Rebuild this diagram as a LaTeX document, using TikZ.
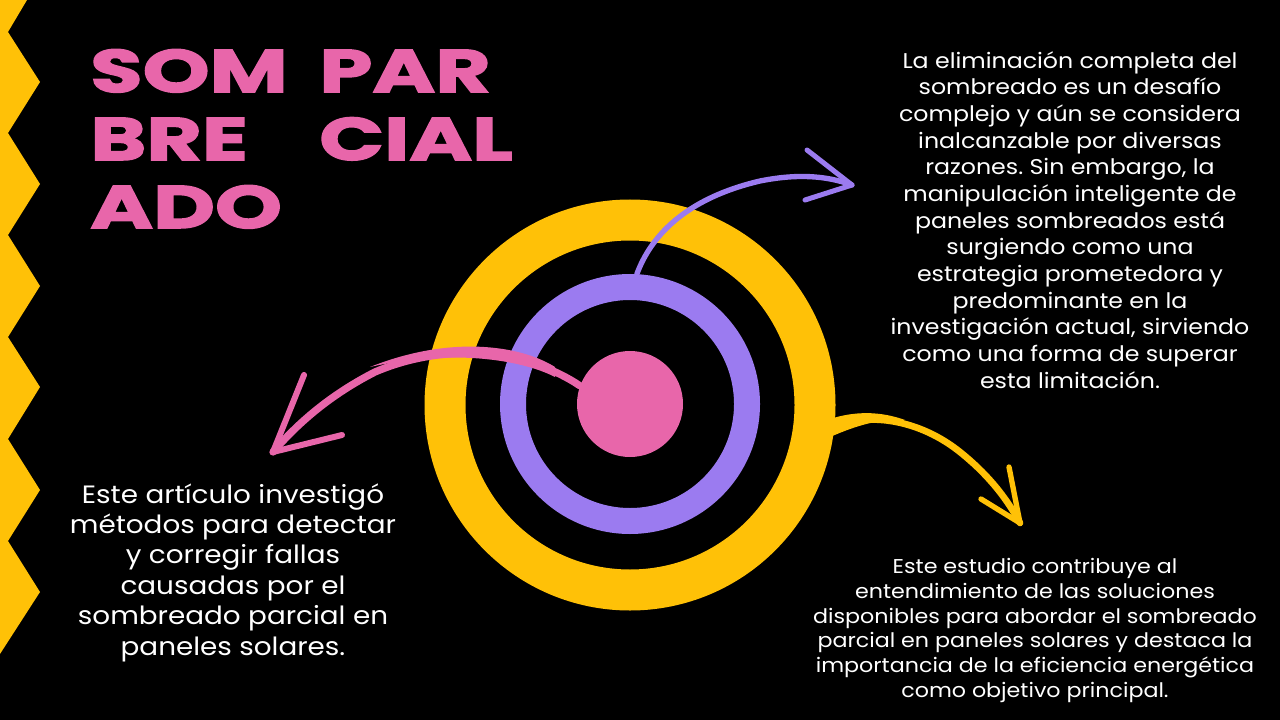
\documentclass[tikz,border=0pt]{standalone}
\usepackage{fontspec}
\setmainfont{Poppins}[FakeStretch=1.11]
\newfontfamily\titlefont{Poppins}[FakeStretch=1.42,FakeBold=2.5]
\frenchspacing
\definecolor{zyellow}{HTML}{FFC107}
\definecolor{zpurple}{HTML}{9B7BF0}
\definecolor{zpink}{HTML}{E866AA}
\tikzset{
  titleword/.style={anchor=base west, inner sep=0pt, text=zpink, font=\titlefont\bfseries\fontsize{45}{51}\selectfont},
  bodytext/.style={anchor=north, inner sep=0pt, text=white, align=center},
  ringstyle/.style={circle, inner sep=0pt},
  stroke/.style={line cap=round, line join=round},
}
\begin{document}
\begin{tikzpicture}[x=0.75pt,y=-0.75pt]
\fill[black] (0,0) rectangle (1280,720);
\useasboundingbox (0,0) rectangle (1280,720);
% zigzag border
\fill[zyellow] (0,0) -- (27,0) -- (8,32) -- (40,82) -- (8,133) -- (40,184) -- (8,235)
  -- (40,286) -- (8,337) -- (40,387) -- (8,439) -- (40,490) -- (8,541) -- (40,592)
  -- (0,654) -- cycle;
% title
\node[titleword] (t1) at (90,92) {SOM};
\node[titleword] (t2) at (319,92) {PAR};
\node[titleword] (t3) at (90,160) {BRE};
\node[titleword] (t4) at (319,160) {CIAL};
\node[titleword] (t5) at (90,228) {ADO};
% rings
\node[ringstyle, draw=zyellow, line width=30.75pt, minimum size=277.5pt] (yring) at (630,405) {};
\node[ringstyle, draw=zpurple, line width=19.5pt, minimum size=175.5pt] (pring) at (630,404) {};
\node[ringstyle, fill=zpink, minimum size=79.5pt] (dot) at (630,404) {};
% tips and barbs
\coordinate (ptip) at (273,452);
\coordinate (pb1) at (304,375);
\coordinate (pb2) at (342,435);
\coordinate (vtip) at (852,185);
\coordinate (vb1) at (807,150);
\coordinate (vb2) at (805,200);
\coordinate (ytip) at (1020,523);
\coordinate (yb1) at (1009,467);
\coordinate (yb2) at (981,499);
% pink arrow
\fill[zpink] (555,367) .. controls (520,345) and (450,335) .. (370,367)
  .. controls (450,349) and (520,359) .. (555,377) -- cycle;
\draw[stroke, zpink, line width=5.5pt] (dot.160) .. controls (530,352) and (450,340) .. (375,372)
  .. controls (330,395) and (298,423) .. (ptip);
\draw[stroke, zpink, line width=4.5pt] (pb1) -- (ptip) -- (pb2);
% purple arrow
\draw[stroke, zpurple, line width=4pt] (pring.87) .. controls (655,225) and (700,195) .. (760,181)
  .. controls (795,174) and (825,175) .. (vtip);
\draw[stroke, zpurple, line width=3.75pt] (vb1) -- (vtip) -- (vb2);
% yellow arrow
\fill[zyellow] (830,419) .. controls (855,411) and (880,411) .. (905,420)
  .. controls (880,419) and (860,424) .. (830,437) -- cycle;
\draw[stroke, zyellow, line width=5pt] (yring.-6) .. controls (870,412) and (920,420) .. (960,452)
  .. controls (985,472) and (1005,495) .. (ytip);
\draw[stroke, zyellow, line width=4pt] (yb1) -- (ytip) -- (yb2);
% texts
\node[bodytext, font=\fontsize{16}{20}\selectfont] (rtext) at (1070,51) {La eliminación completa del\\
sombreado es un desafío\\
complejo y aún se considera\\
inalcanzable por diversas\\
razones. Sin embargo, la\\
manipulación inteligente de\\
paneles sombreados está\\
surgiendo como una\\
estrategia prometedora y\\
predominante en la\\
investigación actual, sirviendo\\
como una forma de superar\\
esta limitación.};
\node[bodytext, font=\fontsize{18.8}{22.8}\selectfont] (ltext) at (233,483) {Este artículo investigó\\
métodos para detectar\\
y corregir fallas\\
causadas por el\\
sombreado parcial en\\
paneles solares.};
\node[bodytext, font=\fontsize{15}{18.6}\selectfont] (btext) at (1035,558) {Este estudio contribuye al\\
entendimiento de las soluciones\\
disponibles para abordar el sombreado\\
parcial en paneles solares y destaca la\\
importancia de la eficiencia energética\\
como objetivo principal.};
\end{tikzpicture}
\end{document}
